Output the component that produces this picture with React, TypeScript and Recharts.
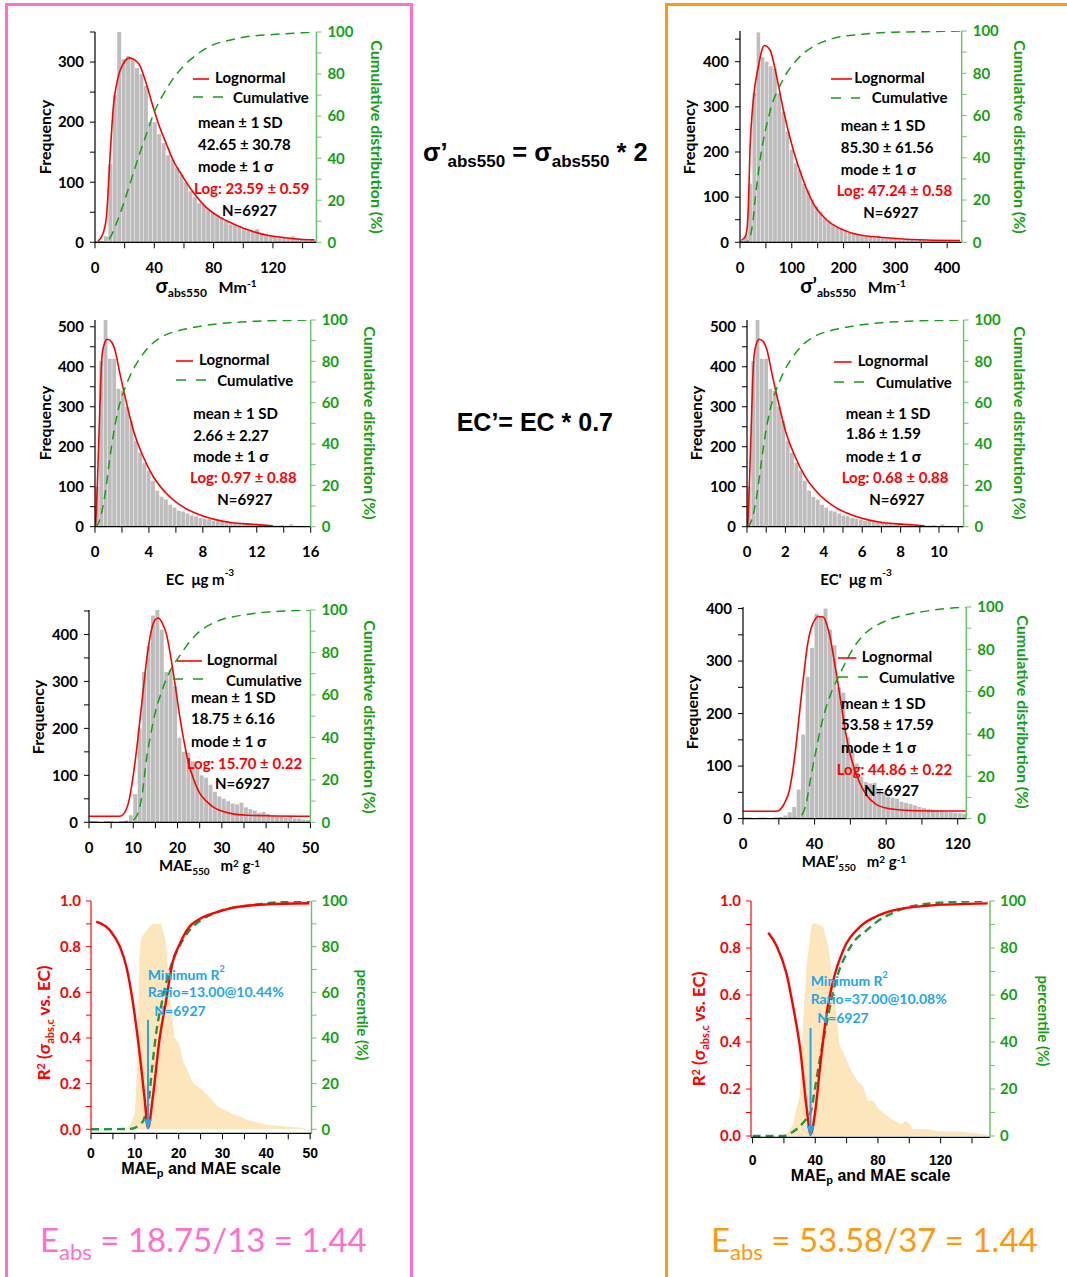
import React from 'react';
import { ComposedChart, Bar, Line, Area, XAxis, YAxis } from 'recharts';

// ---- histogram data (bin centre / count) ----
const sigmaBins = [1.5, 4.5, 7.5, 10.5, 13.5, 16.5, 19.5, 22.5, 25.5, 28.5, 31.5, 34.5, 37.5, 40.5, 43.5, 46.5, 49.5, 52.5, 55.5, 58.5, 61.5, 64.5, 67.5, 70.5, 73.5, 76.5, 79.5, 82.5, 85.5, 88.5, 91.5, 94.5, 97.5, 100.5, 103.5, 106.5, 109.5, 112.5, 115.5, 118.5, 121.5, 124.5, 127.5, 130.5, 133.5, 136.5, 139.5, 142.5, 145.5, 148.5];
const sigmaFreq = [0, 2, 10, 130, 245, 350, 305, 310, 305, 290, 280, 260, 200, 200, 180, 165, 145, 138, 125, 112, 100, 85, 75, 65, 62, 55, 50, 45, 42, 35, 30, 28, 25, 22, 20, 18, 22, 15, 14, 12, 10, 9, 8, 6, 10, 7, 6, 5, 4, 3];

const sigma2Bins = [4, 12, 20, 28, 36, 44, 52, 60, 68, 76, 84, 92, 100, 108, 116, 124, 132, 140, 148, 156, 164, 172, 180, 188, 196, 204, 212, 220, 228, 236, 244, 252, 260, 268, 276, 284, 292, 300, 308, 316, 324, 332, 340, 348, 356, 364, 372, 380, 388, 396, 404, 412, 420];
const sigma2Freq = [5, 15, 130, 330, 465, 410, 400, 390, 385, 330, 290, 245, 205, 175, 160, 130, 115, 95, 80, 68, 55, 48, 40, 33, 30, 28, 22, 20, 18, 15, 13, 12, 10, 14, 9, 8, 8, 7, 6, 5, 6, 5, 4, 5, 4, 3, 4, 3, 3, 4, 3, 2, 2];

const ecBins = [0.16, 0.48, 0.8, 1.12, 1.44, 1.76, 2.08, 2.4, 2.72, 3.04, 3.36, 3.68, 4.0, 4.32, 4.64, 4.96, 5.28, 5.6, 5.92, 6.24, 6.56, 6.88, 7.2, 7.52, 7.84, 8.16, 8.48, 8.8, 9.12, 9.44, 9.76, 10.08, 10.4, 10.72, 11.04, 11.36, 11.68, 12.0, 12.32, 12.64, 12.96, 13.28, 13.6, 13.92, 14.24, 14.56, 14.88, 15.2, 15.52, 15.84];
const ecFreq = [100, 415, 517, 420, 420, 345, 340, 300, 265, 215, 185, 160, 140, 115, 90, 75, 68, 55, 48, 40, 38, 33, 28, 26, 22, 20, 18, 15, 14, 12, 11, 10, 9, 8, 7, 7, 6, 5, 5, 4, 4, 3, 3, 4, 2, 6, 2, 2, 1, 1];
const ec2Bins = [0.11, 0.34, 0.56, 0.78, 1.01, 1.23, 1.46, 1.68, 1.9, 2.13, 2.35, 2.58, 2.8, 3.02, 3.25, 3.47, 3.7, 3.92, 4.14, 4.37, 4.59, 4.82, 5.04, 5.26, 5.49, 5.71, 5.94, 6.16, 6.38, 6.61, 6.83, 7.06, 7.28, 7.5, 7.73, 7.95, 8.18, 8.4, 8.62, 8.85, 9.07, 9.3, 9.52, 9.74, 9.97, 10.19, 10.42, 10.64, 10.86, 11.09];

const maeBins = [0.5, 1.5, 2.5, 3.5, 4.5, 5.5, 6.5, 7.5, 8.5, 9.5, 10.5, 11.5, 12.5, 13.5, 14.5, 15.5, 16.5, 17.5, 18.5, 19.5, 20.5, 21.5, 22.5, 23.5, 24.5, 25.5, 26.5, 27.5, 28.5, 29.5, 30.5, 31.5, 32.5, 33.5, 34.5, 35.5, 36.5, 37.5, 38.5, 39.5, 40.5, 41.5, 42.5, 43.5, 44.5, 45.5, 46.5, 47.5, 48.5, 49.5];
const maeFreq = [0, 0, 0, 0, 0, 0, 0, 1, 4, 15, 60, 200, 320, 375, 440, 452, 410, 320, 325, 290, 180, 150, 148, 130, 115, 100, 95, 80, 65, 55, 50, 45, 40, 38, 42, 32, 28, 25, 20, 22, 18, 15, 12, 12, 10, 14, 8, 8, 6, 5];

const mae2Bins = [1.25, 3.75, 6.25, 8.75, 11.25, 13.75, 16.25, 18.75, 21.25, 23.75, 26.25, 28.75, 31.25, 33.75, 36.25, 38.75, 41.25, 43.75, 46.25, 48.75, 51.25, 53.75, 56.25, 58.75, 61.25, 63.75, 66.25, 68.75, 71.25, 73.75, 76.25, 78.75, 81.25, 83.75, 86.25, 88.75, 91.25, 93.75, 96.25, 98.75, 101.25, 103.75, 106.25, 108.75, 111.25, 113.75, 116.25, 118.75, 121.25, 123.75];
const mae2Freq = [0, 0, 0, 0, 0, 0, 0, 2, 3, 6, 12, 22, 55, 160, 270, 325, 390, 385, 400, 360, 330, 250, 240, 155, 130, 105, 80, 70, 67, 68, 55, 50, 42, 40, 38, 32, 30, 28, 25, 22, 20, 18, 17, 15, 15, 13, 12, 11, 10, 9];

// ---- lognormal fits [x, count] ----
const sigmaFit = [[2, 2], [5, 12], [7.7, 42], [10, 137], [12.2, 220], [15.6, 275], [19, 297], [23.4, 307], [27, 303], [30.1, 295], [34.6, 264], [39.1, 226], [43.6, 192], [48.1, 164], [52.6, 137], [59.3, 109], [66, 84], [75, 58], [84, 42], [93, 31], [104, 20], [115.5, 12], [127, 8], [138, 5], [148, 4]];
const sigma2Fit = [[3, 5], [10, 12], [13, 25], [16, 75], [19.3, 204], [25.7, 315], [35.4, 389], [47, 436], [57.9, 426], [70.8, 367], [83.7, 293], [103, 204], [122, 138], [141.5, 86], [167, 50], [200, 27], [232, 16], [296, 9], [360, 5], [425, 4]];
const ecFit = [[0.05, 5], [0.17, 100], [0.3, 233], [0.42, 358], [0.54, 433], [0.74, 462], [0.91, 469], [1.23, 462], [1.48, 442], [1.85, 383], [2.35, 308], [2.84, 242], [3.58, 175], [4.33, 125], [5.3, 83], [6.5, 50], [7.8, 29], [9, 17], [10.2, 10], [11.7, 6], [13.2, 2]];
const ec2Fit = [[0.04, 5], [0.12, 100], [0.21, 233], [0.29, 358], [0.38, 433], [0.52, 462], [0.64, 469], [0.86, 462], [1.04, 442], [1.3, 383], [1.65, 308], [1.99, 242], [2.51, 175], [3.03, 125], [3.71, 83], [4.55, 50], [5.46, 29], [6.3, 17], [7.14, 10], [8.19, 6], [9.24, 2]];
const maeFit = [[0, 13], [7, 13], [8, 20], [9, 45], [10, 100], [11, 175], [12, 260], [13, 345], [14, 405], [15, 432], [15.7, 435], [16.5, 425], [17.5, 400], [18.5, 350], [19.5, 290], [20.5, 225], [21.5, 170], [22.5, 125], [23.5, 95], [25, 62], [26.5, 45], [28, 33], [30, 24], [32.5, 18], [36, 15], [40, 14], [50, 13]];
const mae2Fit = [[0, 14], [19, 14], [21, 18], [23, 28], [26, 55], [28, 95], [30, 150], [32, 215], [34, 275], [36, 330], [38, 362], [40, 378], [42, 385], [44.9, 384], [47, 368], [49, 340], [51, 300], [53, 260], [55, 215], [57, 172], [59, 135], [62, 98], [65, 70], [69, 45], [74, 28], [80, 20], [90, 16], [105, 14.5], [125, 14.5]];

// ---- cumulative distribution [x, %] ----
const sigmaCum = [[0, 0], [5, 0], [8, 0.5], [10, 2], [15, 10], [20, 20], [25, 31], [30, 42], [35, 52], [40, 62], [45, 69], [50, 75], [55, 80], [60, 84], [70, 90], [80, 94], [90, 96], [100, 97.5], [120, 98.8], [140, 99.6], [148, 100]];
const sigma2Cum = [[0, 0], [10, 0], [15, 0.5], [20, 3], [25, 10], [30, 22], [35, 32], [40, 41], [45, 48], [50, 54], [55, 59], [60, 64], [70, 70.5], [80, 75.5], [90, 80], [100, 83.5], [116, 88], [141, 92.6], [180, 96.5], [232, 98.4], [296, 99.4], [360, 99.7], [428, 100]];
const ecCum = [[0, 0], [0.2, 1], [0.5, 7], [0.8, 18], [1.1, 33], [1.4, 46], [1.7, 56], [2, 63], [2.4, 70], [3, 78], [3.5, 83], [4, 87], [5, 92], [6, 94.5], [7, 96], [8, 97.2], [10, 98.7], [12, 99.4], [14, 99.8], [16, 100]];
const ec2Cum = [[0, 0], [0.14, 1], [0.35, 7], [0.56, 18], [0.77, 33], [0.98, 46], [1.19, 56], [1.4, 63], [1.68, 70], [2.1, 78], [2.45, 83], [2.8, 87], [3.5, 92], [4.2, 94.5], [4.9, 96], [5.6, 97.2], [7, 98.7], [8.4, 99.4], [9.8, 99.8], [11.28, 100]];
const maeCum = [[0, 0], [9, 0], [10, 1], [11, 4], [12, 13], [13, 30], [14, 42], [15, 52], [16, 59], [17, 65], [18, 70], [19, 74], [20, 77], [21, 80], [22, 83], [24, 88], [26, 91.5], [28, 93.8], [30, 95.5], [33, 97], [36, 98], [40, 99], [45, 99.6], [50, 100]];
const mae2Cum = [[0, 0], [30, 0], [32, 0.8], [35, 6], [38, 20], [41, 33], [44, 45], [47, 54], [50, 61], [54, 68], [58, 75], [62, 81], [67, 86.5], [73, 90.5], [80, 93.5], [85, 95], [95, 97], [105, 98.4], [115, 99.4], [125, 100]];

// ---- R2 scan panels ----
const maepDist = [[7, 0], [8, 0.005], [9, 0.02], [10, 0.07], [10.5, 0.25], [11, 0.75], [11.5, 0.84], [13, 0.88], [14, 0.9], [16, 0.9], [17, 0.83], [18, 0.6], [19, 0.4], [20, 0.38], [21, 0.3], [22, 0.26], [23, 0.21], [24, 0.19], [25, 0.18], [26, 0.16], [27, 0.14], [28, 0.12], [29, 0.1], [30, 0.09], [32, 0.07], [34, 0.055], [36, 0.04], [38, 0.03], [40, 0.02], [43, 0.015], [46, 0.01], [49, 0.005]];
const maepR2 = [[1.2, 0.91], [4.4, 0.87], [6.6, 0.8], [8.1, 0.71], [9.6, 0.55], [11.1, 0.33], [12.2, 0.14], [13, 0.005], [14.1, 0.14], [15.6, 0.39], [17.1, 0.56], [18.6, 0.73], [20.2, 0.81], [22.4, 0.886], [24.7, 0.92], [28.5, 0.95], [32.3, 0.97], [39.9, 0.985], [49.8, 0.99]];
const maepPct = [[0, 0], [9, 0.2], [10, 0.6], [11, 2], [12, 4], [12.6, 8], [13, 10.4], [14, 28], [15, 44], [16, 54], [17, 63], [18, 70], [19, 75.5], [20, 79.5], [22, 86], [25, 91.5], [28, 94.5], [32, 97], [36, 98], [40, 99], [50, 100]];
const maepArrow = [[13, 0.48], [13, 0.0]];

const maep2Dist = [[20, 0], [22.7, 0.017], [25.9, 0.05], [28, 0.12], [30.2, 0.17], [32.3, 0.49], [34.5, 0.73], [37.7, 0.9], [39.8, 0.906], [45, 0.89], [48.3, 0.81], [51.4, 0.65], [55.7, 0.38], [57.8, 0.36], [62, 0.29], [66.3, 0.24], [70.5, 0.21], [73.7, 0.15], [76.9, 0.15], [81.2, 0.11], [89.7, 0.067], [95, 0.05], [98, 0.067], [102.4, 0.03], [111, 0.03], [119.5, 0.02], [132, 0.02], [145, 0.01], [150, 0.005]];
const maep2R2 = [[10, 0.865], [15.3, 0.81], [21.7, 0.69], [25.9, 0.55], [30.2, 0.38], [34.5, 0.12], [37, 0.007], [39.8, 0.095], [43, 0.29], [47.2, 0.52], [51.4, 0.66], [57.8, 0.79], [68.5, 0.89], [79.1, 0.935], [89.7, 0.96], [111, 0.98], [150, 0.99]];
const maep2Pct = [[0, 0], [20, 0], [25, 1.5], [30, 4], [34, 7], [37, 10], [40, 21], [43, 33], [47, 47], [50, 57], [53.6, 67], [60, 77.6], [65, 83], [72.7, 87.5], [80, 91.5], [89.7, 95], [100, 97.5], [110, 98.7], [120, 99.3], [135, 99.8], [150, 100]];
const maep2Arrow = [[37, 0.46], [37, 0.0]];

// ---- ticks ----
const countTicks = [0, 50, 100, 150, 200, 250, 300, 350, 400, 450, 500];
const pctTicks = [0, 10, 20, 30, 40, 50, 60, 70, 80, 90, 100];
const r2Ticks = [0, 0.1, 0.2, 0.3, 0.4, 0.5, 0.6, 0.7, 0.8, 0.9, 1.0];
const sigmaTicks = [0, 20, 40, 60, 80, 100, 120, 140];
const sigma2Ticks = [0, 50, 100, 150, 200, 250, 300, 350, 400];
const ecTicks = [0, 2, 4, 6, 8, 10, 12, 14, 16];
const ec2Ticks = [0, 1, 2, 3, 4, 5, 6, 7, 8, 9, 10, 11];
const maeTicks = [0, 5, 10, 15, 20, 25, 30, 35, 40, 45, 50];
const mae2Ticks = [0, 20, 40, 60, 80, 100, 120];
const scanTicks = [0, 20, 40, 60, 80, 100, 120, 140];

const FONT = 'Lato, "Open Sans", "DejaVu Sans", sans-serif';
const ARIAL = '"Liberation Sans", Arial, sans-serif';
const RED = '#FF0000';
const GREEN = '#13A013';
const GREEN_AXIS = '#6CC46C';
const GRAY = '#BDBDBD';
const BLUE = '#1EA6EE';
const BEIGE = '#FDE5BC';
const PINK = '#FF6FCF';
const ORANGE = '#FF9A0C';

const ML = 60;
const MR = 60;
const MT = 10;
const MB = 40;

type Box = { x0: number; y0: number; x1: number; y1: number };
const rows = (p: number[][]) => p.map(([x, y]) => ({ x, y }));
const hist = (bins: number[], freq: number[]) => bins.map((x, i) => ({ x, y: freq[i] }));

const tickStyle = (fill: string, family = FONT, size = 15) => ({ fill, fontSize: size, fontWeight: 700, fontFamily: family });

const Txt = ({ x, y, children, color = '#000', size = 15, anchor = 'left', rotate = 0, weight = 700, family = FONT }: any) => {
  const tx = anchor === 'center' ? '-50%' : '0';
  return (
    <div
      style={{
        position: 'absolute',
        left: x,
        top: y,
        transform: `translate(${tx}, -50%) rotate(${rotate}deg)`,
        whiteSpace: 'nowrap',
        color,
        fontSize: size,
        fontWeight: weight,
        fontFamily: family,
        lineHeight: 1,
      }}
    >
      {children}
    </div>
  );
};

const Sub = ({ children, size = 11 }: any) => (
  <span style={{ fontSize: size, verticalAlign: '-0.35em' }}>{children}</span>
);
const Sup = ({ children, size = 10, lift = '0.6em' }: any) => (
  <span style={{ fontSize: size, verticalAlign: lift }}>{children}</span>
);

const Key = ({ x1, x2, y, dashed }: any) => (
  <svg style={{ position: 'absolute', left: x1, top: y - 2 }} width={x2 - x1} height={4}>
    <line
      x1={0}
      y1={2}
      x2={x2 - x1}
      y2={2}
      stroke={dashed ? GREEN : RED}
      strokeWidth={1.6}
      strokeDasharray={dashed ? '10 10' : undefined}
    />
  </svg>
);

const HistPanel = ({ box, xMax, fMax, xTicks, xLabels, hist: data, fit, cum, binWidth }: any) => {
  const w = box.x1 - box.x0;
  const h = box.y1 - box.y0;
  const barPx = (binWidth * w) / xMax;
  return (
    <div style={{ position: 'absolute', left: box.x0 - ML, top: box.y0 - MT }}>
      <ComposedChart width={w + ML + MR} height={h + MT + MB} margin={{ top: MT, right: 0, bottom: 0, left: 0 }} data={data}>
        <XAxis
          type="number"
          dataKey="x"
          domain={[0, xMax]}
          allowDataOverflow
          ticks={xTicks}
          interval={0}
          height={MB}
          tickSize={6}
          tickMargin={14}
          axisLine={{ stroke: '#000', strokeWidth: 1.2 }}
          tickLine={{ stroke: '#000' }}
          tick={tickStyle('#000')}
          tickFormatter={(v: number) => (xLabels.includes(v) ? String(v) : '')}
        />
        <YAxis
          yAxisId="f"
          type="number"
          domain={[0, fMax]}
          allowDataOverflow
          ticks={countTicks.filter((t) => t <= fMax)}
          interval={0}
          width={ML}
          tickSize={5}
          tickMargin={6}
          axisLine={{ stroke: '#000', strokeWidth: 1.2 }}
          tickLine={{ stroke: '#000' }}
          tick={tickStyle('#000')}
          tickFormatter={(v: number) => (v % 100 === 0 ? String(v) : '')}
        />
        <YAxis
          yAxisId="c"
          orientation="right"
          type="number"
          domain={[0, 100]}
          allowDataOverflow
          ticks={pctTicks}
          interval={0}
          width={MR}
          tickSize={5}
          tickMargin={6}
          axisLine={{ stroke: GREEN_AXIS, strokeWidth: 1.5 }}
          tickLine={{ stroke: GREEN_AXIS }}
          tick={tickStyle(GREEN)}
          tickFormatter={(v: number) => (v % 20 === 0 ? String(v) : '')}
        />
        <Bar
          yAxisId="f"
          dataKey="y"
          fill={GRAY}
          isAnimationActive={false}
          shape={(p: any) => (
            <rect x={p.x + p.width / 2 - barPx / 2} y={p.y} width={Math.max(barPx - 0.5, 0.5)} height={Math.max(p.height, 0)} fill={GRAY} />
          )}
        />
        <Line yAxisId="f" data={fit} dataKey="y" type="monotone" stroke={RED} strokeWidth={1.6} dot={false} isAnimationActive={false} />
        <Line yAxisId="c" data={cum} dataKey="y" type="monotone" stroke={GREEN} strokeWidth={1.5} strokeDasharray="9 6" dot={false} isAnimationActive={false} />
      </ComposedChart>
    </div>
  );
};

const ScanPanel = ({ box, xMin, xMax, xTicks, xLabels, rMin, pMin, dist, r2, pct, arrow, xMargin }: any) => {
  const w = box.x1 - box.x0;
  const h = box.y1 - box.y0;
  return (
    <div style={{ position: 'absolute', left: box.x0 - ML, top: box.y0 - MT }}>
      <ComposedChart width={w + ML + MR} height={h + MT + MB} margin={{ top: MT, right: 0, bottom: 0, left: 0 }} data={dist}>
        <XAxis
          type="number"
          dataKey="x"
          domain={[xMin, xMax]}
          allowDataOverflow
          ticks={xTicks}
          interval={0}
          height={MB}
          tickSize={6}
          tickMargin={xMargin}
          axisLine={{ stroke: '#000', strokeWidth: 1.2 }}
          tickLine={{ stroke: '#000' }}
          tick={tickStyle('#000', ARIAL, 14)}
          tickFormatter={(v: number) => (xLabels.includes(v) ? String(v) : '')}
        />
        <YAxis
          yAxisId="r"
          type="number"
          domain={[rMin, 1]}
          allowDataOverflow
          ticks={r2Ticks}
          interval={0}
          width={ML}
          tickSize={5}
          tickMargin={5}
          axisLine={{ stroke: RED, strokeWidth: 1.2 }}
          tickLine={{ stroke: RED }}
          tick={tickStyle(RED)}
          tickFormatter={(v: number) => (Math.round(v * 10) % 2 === 0 ? v.toFixed(1) : '')}
        />
        <YAxis
          yAxisId="p"
          orientation="right"
          type="number"
          domain={[pMin, 100]}
          allowDataOverflow
          ticks={pctTicks}
          interval={0}
          width={MR}
          tickSize={5}
          tickMargin={5}
          axisLine={{ stroke: GREEN_AXIS, strokeWidth: 1.5 }}
          tickLine={{ stroke: GREEN_AXIS }}
          tick={tickStyle(GREEN)}
          tickFormatter={(v: number) => (v % 20 === 0 ? String(v) : '')}
        />
        <Area yAxisId="r" dataKey="y" type="linear" fill={BEIGE} fillOpacity={1} stroke="none" isAnimationActive={false} />
        <Line yAxisId="p" data={pct} dataKey="y" type="monotone" stroke="#1E9A3C" strokeWidth={2.4} strokeDasharray="8 5" dot={false} isAnimationActive={false} />
        <Line yAxisId="r" data={r2} dataKey="y" type="monotone" stroke={RED} strokeWidth={2.4} dot={false} isAnimationActive={false} />
        <Line
          yAxisId="r"
          data={arrow}
          dataKey="y"
          type="linear"
          stroke={BLUE}
          strokeWidth={2}
          isAnimationActive={false}
          dot={(p: any) =>
            p.index === 1 ? (
              <path key="head" d={`M${p.cx - 4},${p.cy - 10} L${p.cx + 4},${p.cy - 10} L${p.cx},${p.cy} Z`} fill={BLUE} />
            ) : (
              <g key={`d${p.index}`} />
            )
          }
        />
      </ComposedChart>
    </div>
  );
};

const Stats = ({ lay, lines }: any) => (
  <>
    <Key x1={lay.red[0]} x2={lay.red[1]} y={lay.red[2]} />
    <Txt x={lay.lt[0]} y={lay.lt[1]}>Lognormal</Txt>
    <Key x1={lay.dash[0]} x2={lay.dash[1]} y={lay.dash[2]} dashed />
    <Txt x={lay.ct[0]} y={lay.ct[1]}>Cumulative</Txt>
    <Txt x={lay.sx} y={lay.sy[0]}>mean ± 1 SD</Txt>
    <Txt x={lay.sx} y={lay.sy[1]}>{lines[0]}</Txt>
    <Txt x={lay.sx} y={lay.sy[2]}>mode ± 1 σ</Txt>
    <Txt x={lay.lg[0]} y={lay.lg[1]} color={RED}>{lines[1]}</Txt>
    <Txt x={lay.n[0]} y={lay.n[1]}>N=6927</Txt>
  </>
);

const Side = ({ fx, cx, y }: any) => (
  <>
    <Txt x={fx} y={y} anchor="center" rotate={-90} size={16}>Frequency</Txt>
    <Txt x={cx} y={y} anchor="center" rotate={90} size={16} color={GREEN}>Cumulative distribution (%)</Txt>
  </>
);

const ScanText = ({ x, y, ratio, rx, px }: any) => (
  <>
    <Txt x={x} y={y} color={BLUE} size={14}>Minimum R<Sup size={9} lift="0.9em">2</Sup></Txt>
    <Txt x={x} y={y + 19.5} color={BLUE} size={14}>{ratio}</Txt>
    <Txt x={x + 6.6} y={y + 38.5} color={BLUE} size={14}>N=6927</Txt>
    <Txt x={rx} y={y + 50} anchor="center" rotate={-90} size={17} color={RED}>
      R<Sup size={11} lift="0.45em">2</Sup> (σ<Sub size={11}>abs,c</Sub> vs. EC)
    </Txt>
    <Txt x={px} y={y + 42} anchor="center" rotate={90} size={15} color={GREEN}>percentile (%)</Txt>
  </>
);

export default function App() {
  return (
    <div style={{ position: 'absolute', left: 0, top: 0, width: 1067, height: 1277, overflow: 'hidden', background: '#fff' }}>
      <div style={{ position: 'absolute', left: 5, top: 3, width: 408, height: 1300, boxSizing: 'border-box', border: `3.5px solid ${PINK}` }} />
      <div style={{ position: 'absolute', left: 665, top: 3, width: 430, height: 1300, boxSizing: 'border-box', border: `3.5px solid ${ORANGE}` }} />

      {/* row 1: absorption coefficient */}
      <HistPanel box={{ x0: 95.3, y0: 31.7, x1: 316.7, y1: 242 }} xMax={149.3} fMax={350} xTicks={sigmaTicks} xLabels={[0, 40, 80, 120]}
        hist={hist(sigmaBins, sigmaFreq)} fit={rows(sigmaFit)} cum={rows(sigmaCum)} binWidth={3} />
      <Side fx={45} cx={377} y={137} />
      <Stats lay={{ red: [192.7, 209.3, 79], lt: [215, 77], dash: [192.7, 223, 96.7], ct: [233, 97], sx: 198, sy: [122, 144, 166], lg: [194, 188], n: [222, 210] }}
        lines={['42.65 ± 30.78', 'Log: 23.59 ± 0.59']} />
      <Txt x={206} y={287} anchor="center" size={16}>
        <span style={{ fontSize: 20 }}>σ</span><Sub size={12}>abs550</Sub>&nbsp;&nbsp;&nbsp;Mm<Sup size={10}>-1</Sup>
      </Txt>

      <HistPanel box={{ x0: 740, y0: 31, x1: 961.7, y1: 242.3 }} xMax={428} fMax={468} xTicks={sigma2Ticks} xLabels={[0, 100, 200, 300, 400]}
        hist={hist(sigma2Bins, sigma2Freq)} fit={rows(sigma2Fit)} cum={rows(sigma2Cum)} binWidth={8} />
      <Side fx={689.3} cx={1020} y={137} />
      <Stats lay={{ red: [830.7, 851.7, 79], lt: [854.3, 77], dash: [830.7, 860, 97.7], ct: [871.7, 97], sx: 840.7, sy: [125, 146.7, 169], lg: [836.7, 190], n: [863.3, 212] }}
        lines={['85.30 ± 61.56', 'Log: 47.24 ± 0.58']} />
      <Txt x={853} y={287} anchor="center" size={16}>
        <span style={{ fontSize: 20 }}>σ’</span><Sub size={12}>abs550</Sub>&nbsp;&nbsp;&nbsp;Mm<Sup size={10}>-1</Sup>
      </Txt>

      {/* row 2: EC */}
      <HistPanel box={{ x0: 95, y0: 320, x1: 310.7, y1: 526.7 }} xMax={16} fMax={517} xTicks={ecTicks} xLabels={[0, 4, 8, 12, 16]}
        hist={hist(ecBins, ecFreq)} fit={rows(ecFit)} cum={rows(ecCum)} binWidth={0.32} />
      <Side fx={45} cx={370} y={423.3} />
      <Stats lay={{ red: [175.7, 192.7, 361], lt: [199, 358.7], dash: [175.7, 205.7, 380], ct: [217.3, 380], sx: 193.3, sy: [412.7, 434.7, 456], lg: [190, 476.7], n: [217.3, 499] }}
        lines={['2.66 ± 2.27', 'Log: 0.97 ± 0.88']} />
      <Txt x={200} y={576.7} anchor="center" size={15}>EC&nbsp;&nbsp;μg m<Sup size={10} lift="0.9em">-3</Sup></Txt>

      <HistPanel box={{ x0: 746.7, y0: 320, x1: 963.3, y1: 526.7 }} xMax={11.28} fMax={517} xTicks={ec2Ticks} xLabels={[0, 2, 4, 6, 8, 10]}
        hist={hist(ec2Bins, ecFreq)} fit={rows(ec2Fit)} cum={rows(ec2Cum)} binWidth={0.224} />
      <Side fx={696} cx={1020} y={423.3} />
      <Stats lay={{ red: [834, 851.7, 362.3], lt: [857.7, 360], dash: [834, 864, 381.7], ct: [876, 381.7], sx: 845.7, sy: [412.7, 433.3, 456], lg: [841.7, 476.7], n: [869.3, 499.3] }}
        lines={['1.86 ± 1.59', 'Log: 0.68 ± 0.88']} />
      <Txt x={856} y={576.7} anchor="center" size={15}>EC'&nbsp;&nbsp;μg m<Sup size={10} lift="0.9em">-3</Sup></Txt>

      {/* row 3: MAE */}
      <HistPanel box={{ x0: 89.3, y0: 610, x1: 310.7, y1: 822.3 }} xMax={50} fMax={452} xTicks={maeTicks} xLabels={[0, 10, 20, 30, 40, 50]}
        hist={hist(maeBins, maeFreq)} fit={rows(maeFit)} cum={rows(maeCum)} binWidth={1} />
      <Side fx={38.3} cx={370} y={716.7} />
      <Stats lay={{ red: [176.7, 201.7, 660.7], lt: [206.7, 659], dash: [173.3, 213.3, 679.3], ct: [226, 680], sx: 191, sy: [697.3, 718.3, 740.7], lg: [186.7, 762.7], n: [215, 783.3] }}
        lines={['18.75 ± 6.16', 'Log: 15.70 ± 0.22']} />
      <Txt x={209.5} y={867.3} anchor="center" size={15}>MAE<Sub size={10}>550</Sub>&nbsp;&nbsp;&nbsp;m<Sup size={10} lift="0.4em">2</Sup> g<Sup size={10} lift="0.4em">-1</Sup></Txt>

      <HistPanel box={{ x0: 742.7, y0: 606.7, x1: 966, y1: 818.3 }} xMax={124.8} fMax={403} xTicks={mae2Ticks} xLabels={[0, 40, 80, 120]}
        hist={hist(mae2Bins, mae2Freq)} fit={rows(mae2Fit)} cum={rows(mae2Cum)} binWidth={2.5} />
      <Side fx={691.7} cx={1023.3} y={711.7} />
      <Stats lay={{ red: [838.3, 856.7, 657.7], lt: [861.7, 656], dash: [838.3, 868.3, 677.3], ct: [879, 677.3], sx: 841, sy: [703.3, 724.3, 746.7], lg: [836.7, 768.7], n: [864, 790] }}
        lines={['53.58 ± 17.59', 'Log: 44.86 ± 0.22']} />
      <Txt x={854} y={863.3} anchor="center" size={15}>MAE’<Sub size={10}>550</Sub>&nbsp;&nbsp;&nbsp;m<Sup size={10} lift="0.4em">2</Sup> g<Sup size={10} lift="0.4em">-1</Sup></Txt>

      {/* row 4: R2 scan */}
      <ScanPanel box={{ x0: 90.5, y0: 900.7, x1: 311, y1: 1133 }} xMin={0} xMax={50.3} xTicks={maeTicks} xLabels={[0, 10, 20, 30, 40, 50]}
        rMin={-0.0175} pMin={-1.75} dist={rows(maepDist)} r2={rows(maepR2)} pct={rows(maepPct)} arrow={rows(maepArrow)} xMargin={9} />
      <ScanText x={147.7} y={972.7} ratio="Ratio=13.00@10.44%" rx={45} px={361.7} />
      <Txt x={201} y={1170} anchor="center" size={16} family={ARIAL}>MAE<Sub size={11}>p</Sub> and MAE scale</Txt>

      <ScanPanel box={{ x0: 751, y0: 900.7, x1: 990, y1: 1137 }} xMin={-1} xMax={151.5} xTicks={scanTicks} xLabels={[0, 40, 80, 120]}
        rMin={-0.0055} pMin={-0.55} dist={rows(maep2Dist)} r2={rows(maep2R2)} pct={rows(maep2Pct)} arrow={rows(maep2Arrow)} xMargin={12} />
      <ScanText x={810.7} y={979.3} ratio="Ratio=37.00@10.08%" rx={700} px={1043.3} />
      <Txt x={870.5} y={1177} anchor="center" size={16} family={ARIAL}>MAE<Sub size={11}>p</Sub> and MAE scale</Txt>

      {/* scaling notes */}
      <Txt x={423} y={155} size={25.5} family={ARIAL}>
        σ’<Sub size={17}>abs550</Sub> = σ<Sub size={17}>abs550</Sub> * 2
      </Txt>
      <Txt x={456.7} y={421.7} size={25} family={ARIAL}>EC’= EC * 0.7</Txt>

      <Txt x={40} y={1243} size={33} weight={400} color={PINK}>
        E<Sub size={22}>abs</Sub> = 18.75/13 = 1.44
      </Txt>
      <Txt x={711} y={1243} size={33} weight={400} color={ORANGE}>
        E<Sub size={22}>abs</Sub> = 53.58/37 = 1.44
      </Txt>
    </div>
  );
}
